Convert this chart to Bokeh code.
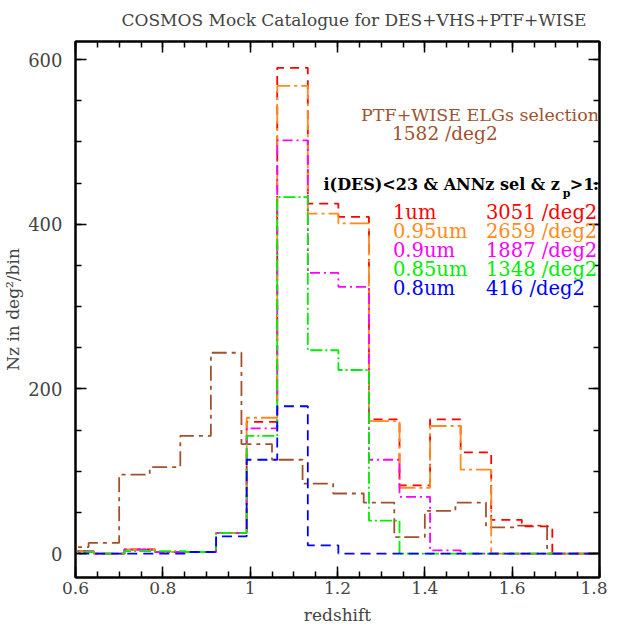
from bokeh.plotting import figure
from bokeh.models import FixedTicker, LinearAxis, Label, Range1d
from bokeh.embed import file_html
from bokeh.resources import INLINE

# ---------------- data ----------------
# PTF+WISE ELG selection histogram (bin edges and counts per bin)
elg_edges = [0.56, 0.63, 0.70, 0.77, 0.84, 0.91, 0.98, 1.05, 1.12, 1.19,
             1.26, 1.33, 1.40, 1.47, 1.54, 1.61, 1.68, 1.75, 1.82]
elg_counts = [8, 13, 96, 105, 143, 244, 133, 114, 85, 73,
              62, 20, 52, 62, 32, 34, 0, 0]

# i(DES)<23 & ANNz sel & zp>1 histograms
sel_edges = [0.572, 0.642, 0.712, 0.782, 0.852, 0.922, 0.992, 1.062, 1.132, 1.202,
             1.272, 1.342, 1.412, 1.482, 1.552, 1.622, 1.692, 1.762, 1.832]
counts_1um = [3, 0, 5, 2, 2, 25, 160, 590, 425, 409, 163, 83, 163, 123, 41, 33, 0, 0]
counts_095um = [3, 0, 5, 2, 2, 25, 165, 568, 413, 401, 161, 80, 155, 102, 0, 0, 0, 0]
counts_09um = [3, 0, 5, 2, 2, 25, 152, 502, 341, 324, 114, 69, 4, 0, 0, 0, 0, 0]
counts_085um = [2, 0, 3, 3, 2, 25, 143, 433, 247, 223, 40, 0, 0, 0, 0, 0, 0, 0]
counts_08um = [0, 0, 0, 0, 2, 21, 114, 179, 10, 0, 0, 0, 0, 0, 0, 0, 0, 0]

series_names = ["1um", "0.95um", "0.9um", "0.85um", "0.8um"]
series_density = ["3051 /deg2", "2659 /deg2", "1887 /deg2", "1348 /deg2", "416 /deg2"]
series_counts = [counts_1um, counts_095um, counts_09um, counts_085um, counts_08um]

elg_density = "1582 /deg2"

x_major = [0.6, 0.8, 1.0, 1.2, 1.4, 1.6, 1.8]
x_labels = ["0.6", "0.8", "1", "1.2", "1.4", "1.6", "1.8"]
x_minor = [round(0.6 + 0.05 * i, 2) for i in range(25)]
y_major = [0, 200, 400, 600]
y_minor = [50 * i for i in range(13)]

# ---------------- styles ----------------
FONT = "DejaVu Serif"
BROWN = "#a0522d"
colors = ["#ff0000", "#ff8c1a", "#ff00ff", "#00ee00", "#0000ff"]
dashes = ["9 6", "20 4 3 4", "10 4 2 4", "12 3 2 3", "10 6"]

p = figure(width=607, height=629,
           x_range=Range1d(0.6, 1.8), y_range=Range1d(-29, 622),
           output_backend="svg", toolbar_location=None,
           min_border_left=65, min_border_right=8,
           min_border_top=41, min_border_bottom=52)
p.grid.visible = False
p.outline_line_color = "black"
p.outline_line_width = 2
p.background_fill_color = "white"
p.border_fill_color = "white"

p.title.text = "COSMOS Mock Catalogue for DES+VHS+PTF+WISE"
p.title.align = "left"
p.title.offset = 46
p.title.text_font = FONT
p.title.text_font_size = "17px"
p.title.text_font_style = "normal"
p.title.vertical_align = "top"
p.title.standoff = 19

xt = FixedTicker(ticks=x_major, minor_ticks=x_minor)
yt = FixedTicker(ticks=y_major, minor_ticks=y_minor)


def style_axis(ax, show_labels):
    ax.axis_line_width = 2
    ax.axis_line_color = "black"
    ax.major_tick_in = 11
    ax.major_tick_out = 0
    ax.minor_tick_in = 6
    ax.minor_tick_out = 0
    ax.major_tick_line_width = 1.5
    ax.minor_tick_line_width = 1.5
    ax.major_label_text_font = FONT
    ax.axis_label_text_font = FONT
    ax.axis_label_text_font_style = "normal"
    ax.axis_label_text_font_size = "17px"
    ax.major_label_text_font_size = "17px"
    if not show_labels:
        ax.major_label_overrides = {t: "" for t in ax.ticker.ticks}
        ax.major_label_standoff = 0


p.xaxis.ticker = xt
p.yaxis.ticker = yt
p.xaxis.major_label_overrides = dict(zip(x_major, x_labels))
style_axis(p.xaxis[0], True)
style_axis(p.yaxis[0], True)
p.xaxis.axis_label = "redshift"
p.yaxis.axis_label = "Nz in deg²/bin"
p.xaxis.major_label_standoff = 4
p.xaxis.axis_label_standoff = 8
p.yaxis.major_label_text_font_size = "18px"
p.yaxis.major_label_standoff = 13
p.yaxis.axis_label_standoff = 2
p.yaxis.major_label_orientation = "horizontal"

top = LinearAxis(ticker=xt)
right = LinearAxis(ticker=yt)
style_axis(top, False)
style_axis(right, False)
p.add_layout(top, "above")
p.add_layout(right, "right")

# ---------------- histograms ----------------
p.step(x=elg_edges, y=elg_counts + [elg_counts[-1]], mode="after",
       line_color=BROWN, line_width=1.8, line_dash="15 5 4 5")
for cnt, col, dash in zip(series_counts, colors, dashes):
    p.step(x=sel_edges, y=cnt + [cnt[-1]], mode="after",
           line_color=col, line_width=1.8, line_dash=dash)

# ---------------- annotations ----------------
p.add_layout(Label(x=1.254, y=521, text="PTF+WISE ELGs selection",
                   text_color=BROWN, text_font=FONT, text_font_size="17.5px"))
p.add_layout(Label(x=1.325, y=497, text=elg_density,
                   text_color=BROWN, text_font=FONT, text_font_size="18.5px"))

p.add_layout(Label(x=1.168, y=437, text="i(DES)<23 & ANNz sel & z",
                   text_color="black", text_font=FONT, text_font_size="16px",
                   text_font_style="bold"))
p.add_layout(Label(x=1.716, y=430, text="p",
                   text_color="black", text_font=FONT, text_font_size="11px",
                   text_font_style="bold"))
p.add_layout(Label(x=1.732, y=437, text=">1",
                   text_color="black", text_font=FONT, text_font_size="16px",
                   text_font_style="bold"))
p.add_layout(Label(x=1.785, y=437, text=":",
                   text_color="black", text_font=FONT, text_font_size="16px",
                   text_font_style="bold"))

row_y = [400, 377, 354, 331, 308]
for name, dens, col, yy in zip(series_names, series_density, colors, row_y):
    p.add_layout(Label(x=1.327, y=yy, text=name, text_color=col,
                       text_font=FONT, text_font_size="19.5px"))
    p.add_layout(Label(x=1.540, y=yy, text=dens, text_color=col,
                       text_font=FONT, text_font_size="19.5px"))

open("out.html", "w").write(file_html(p, INLINE))
